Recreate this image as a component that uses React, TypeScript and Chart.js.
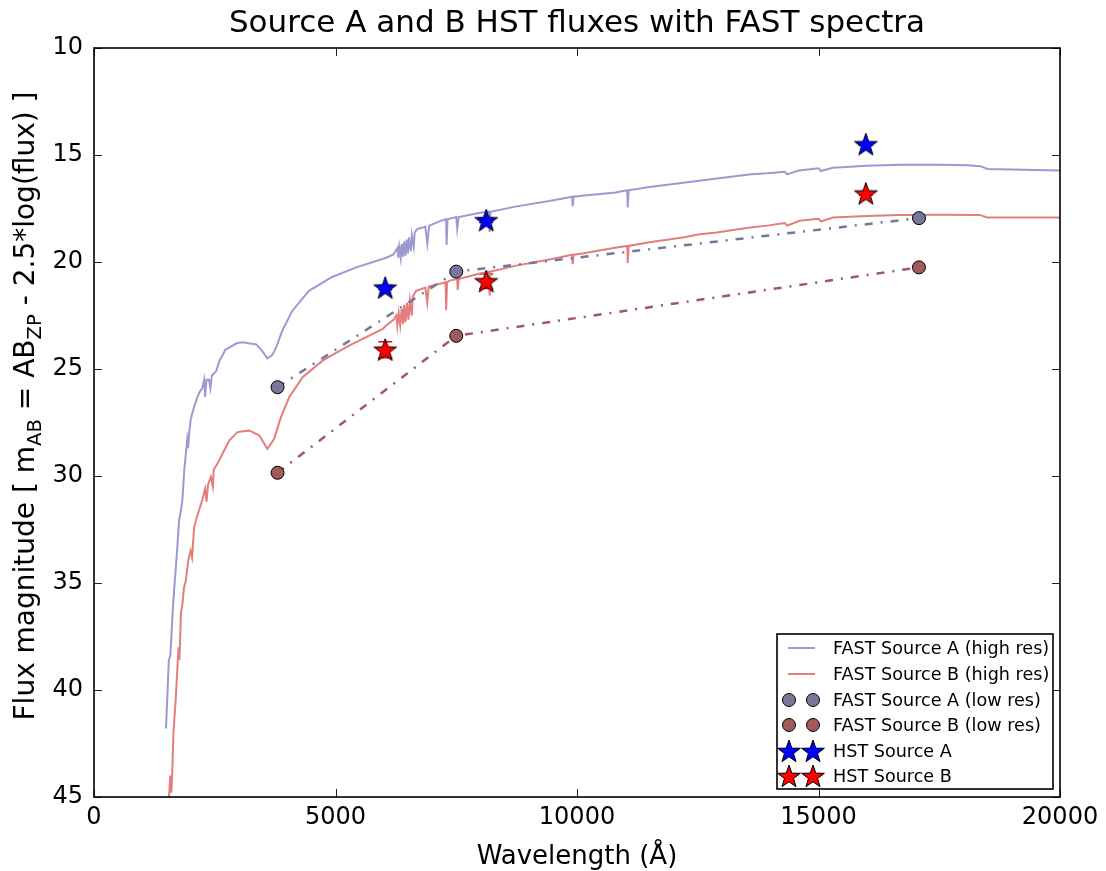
import { useEffect, useRef } from "react";
import { Chart, registerables } from "chart.js";

Chart.register(...registerables);

// ---------- DATA ----------
const specAWave = [
  1490, 1550, 1580, 1600, 1630, 1660, 1720, 1760, 1800, 1830, 1870, 1900, 1930, 1950, 1970, 2000, 2030, 2110, 2180,
  2240, 2280, 2300, 2330, 2380, 2410, 2440, 2530, 2600, 2650, 2720, 2800, 2950, 3070, 3200, 3360, 3480, 3590, 3690,
  3770, 3900, 4100, 4450, 4930, 5430, 6050, 6200, 6280, 6300, 6320, 6350, 6370, 6400, 6420, 6450, 6470, 6500, 6520,
  6560, 6580, 6620, 6640, 6700, 6860, 6900, 6940, 7150, 7290, 7300, 7320, 7500, 7520, 7550, 8000, 8180, 8190, 8210,
  8750, 9430, 9900, 9910, 9930, 10100, 10800, 11040, 11050, 11070, 11500, 12200, 12900, 13600, 13950, 14300, 14350,
  14600, 15000, 15050, 15300, 16000, 16700, 17500, 18100, 18350, 18500, 19000, 20000,
];
const specAMag = [
  41.8, 38.6, 38.4, 37.6, 36.3, 35.3, 33.5, 32.1, 31.6, 31.1, 29.7, 29.0, 28.3, 28.7, 28.0, 27.4, 27.1, 26.5, 26.1,
  25.9, 25.5, 26.3, 25.5, 25.5, 25.9, 25.3, 25.1, 24.6, 24.4, 24.1, 24.0, 23.8, 23.75, 23.8, 23.85, 24.15, 24.5, 24.35,
  24.0, 23.2, 22.3, 21.35, 20.7, 20.25, 19.8, 19.65, 19.35, 19.8, 19.3, 19.8, 19.15, 19.75, 19.05, 19.7, 18.95, 19.6,
  18.85, 19.5, 18.75, 19.3, 18.6, 18.45, 18.35, 19.15, 18.3, 18.1, 18.0, 19.2, 18.0, 17.9, 18.45, 17.9, 17.7, 17.65,
  18.6, 17.65, 17.4, 17.15, 16.95, 17.4, 16.95, 16.9, 16.75, 16.65, 17.45, 16.65, 16.5, 16.3, 16.1, 15.9, 15.85, 15.78,
  15.9, 15.72, 15.62, 15.75, 15.6, 15.5, 15.45, 15.45, 15.48, 15.52, 15.65, 15.68, 15.72,
];

const specBWave = [
  1540, 1580, 1600, 1620, 1645, 1690, 1750, 1770, 1800, 1830, 1865, 1900, 1955, 2000, 2030, 2073, 2120, 2176, 2245,
  2300, 2330, 2360, 2420, 2460, 2480, 2560, 2660, 2800, 2970, 3210, 3420, 3590, 3730, 3870, 4040, 4320, 4730, 5290,
  5980, 6050, 6200, 6260, 6280, 6310, 6340, 6370, 6400, 6420, 6450, 6480, 6510, 6540, 6580, 6600, 6670, 6860, 6900,
  6930, 7280, 7290, 7310, 7360, 7520, 7530, 7550, 8050, 8180, 8190, 8210, 8740, 9430, 9900, 9910, 9930, 10110, 10820,
  11040, 11050, 11070, 11500, 12190, 12540, 12890, 13580, 13930, 14300, 14350, 14610, 15000, 15050, 15300, 16000,
  16680, 17500, 18340, 18490, 19000, 20000,
];
const specBMag = [
  45.5, 44.0, 44.8, 43.9, 42.0, 40.5, 38.0, 38.6, 36.4, 36.0, 35.2, 34.9, 33.9, 33.5, 33.8, 32.4, 32.0, 31.6, 31.1,
  30.6, 31.2, 30.4, 30.05, 30.5, 29.7, 29.4, 28.96, 28.34, 27.95, 27.87, 28.1, 28.73, 28.26, 27.25, 26.32, 25.38, 24.61,
  23.9, 23.13, 22.97, 22.7, 22.5, 23.0, 22.4, 22.95, 22.2, 22.9, 22.0, 22.8, 21.9, 22.7, 21.8, 22.5, 21.6, 21.35, 21.2,
  21.9, 21.15, 20.95, 22.25, 20.95, 20.87, 20.8, 21.3, 20.8, 20.5, 20.45, 21.57, 20.45, 20.17, 19.88, 19.66, 20.1, 19.66,
  19.6, 19.32, 19.25, 20.05, 19.25, 19.08, 18.85, 18.7, 18.62, 18.39, 18.3, 18.18, 18.3, 18.07, 17.98, 18.1, 17.92,
  17.85, 17.8, 17.79, 17.8, 17.92, 17.92, 17.92,
];

const lowWave = [3800, 7500, 17080];
const lowAMag = [25.85, 20.45, 17.95];
const lowBMag = [29.85, 23.45, 20.25];

const hstWave = [6030, 8120, 15980];
const hstAMag = [21.2, 18.05, 14.5];
const hstBMag = [24.1, 20.9, 16.8];
const hstAErr = [0.1, 0.1, 0.05];
const hstBErr = [0.37, 0.34, 0.08];

const xTicks = [0, 5000, 10000, 15000, 20000];
const yTicks = [10, 15, 20, 25, 30, 35, 40, 45];

const titleText = "Source A and B HST fluxes with FAST spectra";
const xLabelText = "Wavelength (Å)";
const yLabelParts: [string, boolean][] = [
  ["Flux magnitude [ m", false],
  ["AB", true],
  [" = AB", false],
  ["ZP", true],
  [" - 2.5*log(flux) ]", false],
];
const legendLabels = [
  "FAST Source A (high res)",
  "FAST Source B (high res)",
  "FAST Source A (low res)",
  "FAST Source B (low res)",
  "HST Source A",
  "HST Source B",
];

// ---------- STYLE ----------
const FONT = "'DejaVu Sans', sans-serif";
const COL_SPEC_A = "rgb(155,155,210)";
const COL_SPEC_B = "rgb(228,125,125)";
const COL_LOW_A = "#777799";
const COL_LOW_B = "#a05a5a";
const COL_HST_A = "#0000ff";
const COL_HST_B = "#ff0000";
const DASH = [8, 8, 2, 8];
const STAR_R = 12;
const CIRC_R = 6.5;

function pathStar(g: CanvasRenderingContext2D, cx: number, cy: number, r: number) {
  g.beginPath();
  for (let i = 0; i < 10; i++) {
    const rad = i % 2 === 0 ? r : r * 0.4;
    const ang = -Math.PI / 2 + (i * Math.PI) / 5;
    const px = cx + rad * Math.cos(ang);
    const py = cy + rad * Math.sin(ang);
    if (i === 0) g.moveTo(px, py);
    else g.lineTo(px, py);
  }
  g.closePath();
}

function drawStar(g: CanvasRenderingContext2D, cx: number, cy: number, r: number, fill: string) {
  pathStar(g, cx, cy, r);
  g.fillStyle = fill;
  g.fill();
  g.lineWidth = 1;
  g.strokeStyle = "#000";
  g.stroke();
}

function starCanvas(fill: string, r: number) {
  const s = Math.ceil(2 * r + 4);
  const c = document.createElement("canvas");
  c.width = s;
  c.height = s;
  const g = c.getContext("2d")!;
  drawStar(g, s / 2, s / 2 + 1, r, fill);
  return c;
}

function drawCircle(g: CanvasRenderingContext2D, cx: number, cy: number, r: number, fill: string) {
  g.beginPath();
  g.arc(cx, cy, r, 0, Math.PI * 2);
  g.fillStyle = fill;
  g.fill();
  g.lineWidth = 1;
  g.strokeStyle = "#000";
  g.stroke();
}

const toPts = (xs: number[], ys: number[]) => xs.map((x, i) => ({ x, y: ys[i] }));

const decorPlugin = {
  id: "decor",
  beforeDatasetsDraw(chart: any) {
    const { ctx, scales } = chart;
    const xs = scales.x;
    const ys = scales.y;
    const bars: [number[], string][] = [
      [hstAErr, COL_HST_A],
      [hstBErr, COL_HST_B],
    ];
    const mags = [hstAMag, hstBMag];
    ctx.save();
    bars.forEach(([errs, col], k) => {
      ctx.strokeStyle = col;
      ctx.lineWidth = 1.5;
      hstWave.forEach((w, i) => {
        const px = xs.getPixelForValue(w);
        const y1 = ys.getPixelForValue(mags[k][i] - errs[i]);
        const y2 = ys.getPixelForValue(mags[k][i] + errs[i]);
        ctx.beginPath();
        ctx.moveTo(px, y1);
        ctx.lineTo(px, y2);
        ctx.moveTo(px - 7, y1);
        ctx.lineTo(px + 7, y1);
        ctx.moveTo(px - 7, y2);
        ctx.lineTo(px + 7, y2);
        ctx.stroke();
      });
    });
    ctx.restore();
  },
  afterDraw(chart: any) {
    const { ctx, chartArea: a, scales } = chart;
    const xs = scales.x;
    const ys = scales.y;
    ctx.save();

    // inward ticks
    ctx.strokeStyle = "#222";
    ctx.lineWidth = 1;
    const tl = 8;
    ctx.beginPath();
    xTicks.forEach((t) => {
      const px = Math.round(xs.getPixelForValue(t)) + 0.5;
      ctx.moveTo(px, a.bottom);
      ctx.lineTo(px, a.bottom - tl);
      ctx.moveTo(px, a.top);
      ctx.lineTo(px, a.top + tl);
    });
    yTicks.forEach((t) => {
      const py = Math.round(ys.getPixelForValue(t)) + 0.5;
      ctx.moveTo(a.left, py);
      ctx.lineTo(a.left + tl, py);
      ctx.moveTo(a.right, py);
      ctx.lineTo(a.right - tl, py);
    });
    ctx.stroke();

    // frame
    ctx.strokeStyle = "#000";
    ctx.lineWidth = 1.6;
    ctx.strokeRect(a.left, a.top, a.right - a.left, a.bottom - a.top);

    // title
    const cx = (a.left + a.right) / 2;
    ctx.fillStyle = "#000";
    ctx.textAlign = "center";
    ctx.textBaseline = "alphabetic";
    ctx.font = `31px ${FONT}`;
    ctx.fillText(titleText, cx, 32);

    // x label
    ctx.font = `26px ${FONT}`;
    ctx.fillText(xLabelText, cx, 864);

    // y label with subscripts
    const fsz = 28;
    const subSz = fsz * 0.7;
    let total = 0;
    yLabelParts.forEach(([t, sub]) => {
      ctx.font = `${sub ? subSz : fsz}px ${FONT}`;
      total += ctx.measureText(t).width;
    });
    ctx.translate(34, 406);
    ctx.rotate(-Math.PI / 2);
    ctx.textAlign = "left";
    let pos = -total / 2;
    yLabelParts.forEach(([t, sub]) => {
      ctx.font = `${sub ? subSz : fsz}px ${FONT}`;
      ctx.fillText(t, pos, sub ? fsz * 0.25 : 0);
      pos += ctx.measureText(t).width;
    });
    ctx.setTransform(1, 0, 0, 1, 0, 0);

    // legend
    const bx = 777, by = 634, bw = 276, bh = 155;
    ctx.fillStyle = "#fff";
    ctx.fillRect(bx, by, bw, bh);
    ctx.strokeStyle = "#000";
    ctx.lineWidth = 1.6;
    ctx.strokeRect(bx, by, bw, bh);
    const rows = [648, 674, 700, 725, 751, 776];
    const m1 = 789, m2 = 813;
    rows.forEach((ry, i) => {
      if (i < 2) {
        ctx.strokeStyle = i === 0 ? COL_SPEC_A : COL_SPEC_B;
        ctx.lineWidth = 2;
        ctx.beginPath();
        ctx.moveTo(m1 - 1, ry);
        ctx.lineTo(m2 + 2, ry);
        ctx.stroke();
      } else if (i < 4) {
        const col = i === 2 ? COL_LOW_A : COL_LOW_B;
        drawCircle(ctx, m1, ry, CIRC_R, col);
        drawCircle(ctx, m2, ry, CIRC_R, col);
      } else {
        const col = i === 4 ? COL_HST_A : COL_HST_B;
        drawStar(ctx, m1, ry + 1, STAR_R, col);
        drawStar(ctx, m2, ry + 1, STAR_R, col);
      }
      ctx.fillStyle = "#000";
      ctx.font = `17.6px ${FONT}`;
      ctx.textAlign = "left";
      ctx.textBaseline = "middle";
      ctx.fillText(legendLabels[i], 833, ry + 1);
    });

    ctx.restore();
  },
};

export default function App() {
  const ref = useRef<HTMLCanvasElement | null>(null);

  useEffect(() => {
    document.body.style.margin = "0";
    const canvas = ref.current!;
    const starA = starCanvas(COL_HST_A, STAR_R);
    const starB = starCanvas(COL_HST_B, STAR_R);

    const chart = new Chart(canvas, {
      type: "line",
      data: {
        datasets: [
          {
            label: legendLabels[0],
            data: toPts(specAWave, specAMag),
            borderColor: COL_SPEC_A,
            borderWidth: 2,
            pointRadius: 0,
            tension: 0,
            order: 6,
          },
          {
            label: legendLabels[1],
            data: toPts(specBWave, specBMag),
            borderColor: COL_SPEC_B,
            borderWidth: 2,
            pointRadius: 0,
            tension: 0,
            order: 5,
          },
          {
            label: legendLabels[2],
            data: toPts(lowWave, lowAMag),
            borderColor: COL_LOW_A,
            borderWidth: 2.5,
            borderDash: DASH,
            pointRadius: CIRC_R,
            pointBackgroundColor: COL_LOW_A,
            pointBorderColor: "#000",
            pointBorderWidth: 1,
            order: 4,
          },
          {
            label: legendLabels[3],
            data: toPts(lowWave, lowBMag),
            borderColor: COL_LOW_B,
            borderWidth: 2.5,
            borderDash: DASH,
            pointRadius: CIRC_R,
            pointBackgroundColor: COL_LOW_B,
            pointBorderColor: "#000",
            pointBorderWidth: 1,
            order: 3,
          },
          {
            label: legendLabels[4],
            data: toPts(hstWave, hstAMag),
            showLine: false,
            pointStyle: starA as any,
            pointRadius: STAR_R,
            order: 2,
          },
          {
            label: legendLabels[5],
            data: toPts(hstWave, hstBMag),
            showLine: false,
            pointStyle: starB as any,
            pointRadius: STAR_R,
            order: 1,
          },
        ],
      },
      options: {
        animation: false,
        responsive: false,
        devicePixelRatio: 1,
        layout: { padding: { left: 0, top: 48, right: 46, bottom: 0 } },
        plugins: {
          legend: { display: false },
          tooltip: { enabled: false },
          title: { display: false },
        },
        scales: {
          x: {
            type: "linear",
            min: 0,
            max: 20000,
            afterBuildTicks: (s: any) => {
              s.ticks = xTicks.map((v) => ({ value: v }));
            },
            afterFit: (s: any) => {
              s.height = 74;
            },
            ticks: {
              font: { family: FONT, size: 24 },
              color: "#000",
              padding: 6,
              maxRotation: 0,
              autoSkip: false,
              callback: (v: any) => String(v),
            },
            grid: { display: false, drawTicks: false },
            border: { display: false },
          },
          y: {
            type: "linear",
            reverse: true,
            min: 10,
            max: 45,
            afterBuildTicks: (s: any) => {
              s.ticks = yTicks.map((v) => ({ value: v }));
            },
            afterFit: (s: any) => {
              s.width = 94;
            },
            ticks: {
              font: { family: FONT, size: 24 },
              color: "#000",
              padding: 11,
              autoSkip: false,
              callback: (v: any) => String(v),
            },
            grid: { display: false, drawTicks: false },
            border: { display: false },
          },
        },
      },
      plugins: [decorPlugin],
    });
    return () => chart.destroy();
  }, []);

  return <canvas ref={ref} width={1106} height={871} style={{ display: "block", width: 1106, height: 871 }} />;
}
